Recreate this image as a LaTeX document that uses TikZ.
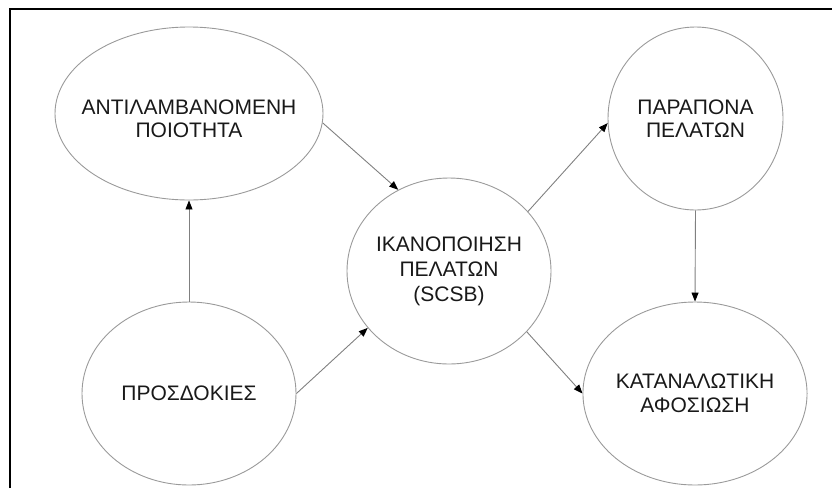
\documentclass[tikz,border=0pt]{standalone}
\usepackage{fontspec}
\setmainfont{Liberation Sans}
\usetikzlibrary{shapes.geometric,arrows.meta}
\definecolor{ovalgray}{HTML}{9A9A9A}
\definecolor{linkgray}{HTML}{808080}
\begin{document}
\begin{tikzpicture}[x=1pt,y=-1pt,
  oval/.style={ellipse, draw=ovalgray, line width=0.9pt, inner sep=0pt},
  txt/.style={align=center, font=\fontsize{21}{23.5}\selectfont, text=black!90},
  link/.style={draw=linkgray, line width=0.9pt,
    -{Triangle[length=9pt,width=7pt,color=black,fill=black]}},
  frame/.style={draw=black, line width=2pt}]
  \useasboundingbox (0,0) rectangle (832,488);

  % outer frame (only its top and left sides fall inside the page)
  \coordinate (fbl) at (10,488);
  \coordinate (ftl) at (10,9);
  \coordinate (ftr) at (832,9);
  \draw[frame] (fbl) -- (ftl) -- (ftr);

  % concepts
  \node[oval, minimum width=268pt, minimum height=173pt,
        label={[txt, yshift=-5.5pt]center:ΑΝΤΙΛΑΜΒΑΝΟΜΕΝΗ\\ΠΟΙΟΤΗΤΑ}]
        (perc) at (189,113.5) {};
  \node[oval, txt, minimum width=214pt, minimum height=183pt]
        (expect) at (189,393.5) {ΠΡΟΣΔΟΚΙΕΣ};
  \node[oval, minimum width=204pt, minimum height=186pt,
        label={[txt, font=\fontsize{21}{25}\selectfont]center:ΙΚΑΝΟΠΟΙΗΣΗ\\ΠΕΛΑΤΩΝ\\(SCSB)}]
        (sat) at (449,271) {};
  \node[oval, txt, minimum width=175pt, minimum height=183pt]
        (compl) at (695.5,118.5) {ΠΑΡΑΠΟΝΑ\\ΠΕΛΑΤΩΝ};
  \node[oval, txt, minimum width=206pt, minimum height=183pt]
        (loyal) at (695,393.5) {ΚΑΤΑΝΑΛΩΤΙΚΗ\\ΑΦΟΣΙΩΣΗ};

  % influences
  \draw[link] (expect.north) -- (perc.south);
  \draw[link] (perc.-4) -- (sat.122);
  \draw[link] (expect.east) -- (sat.215);
  \draw[link] (sat.37) -- (compl.183);
  \draw[link] (sat.-38) -- (loyal.west);
  \draw[link] (compl.south) -- (loyal.north);
\end{tikzpicture}
\end{document}
